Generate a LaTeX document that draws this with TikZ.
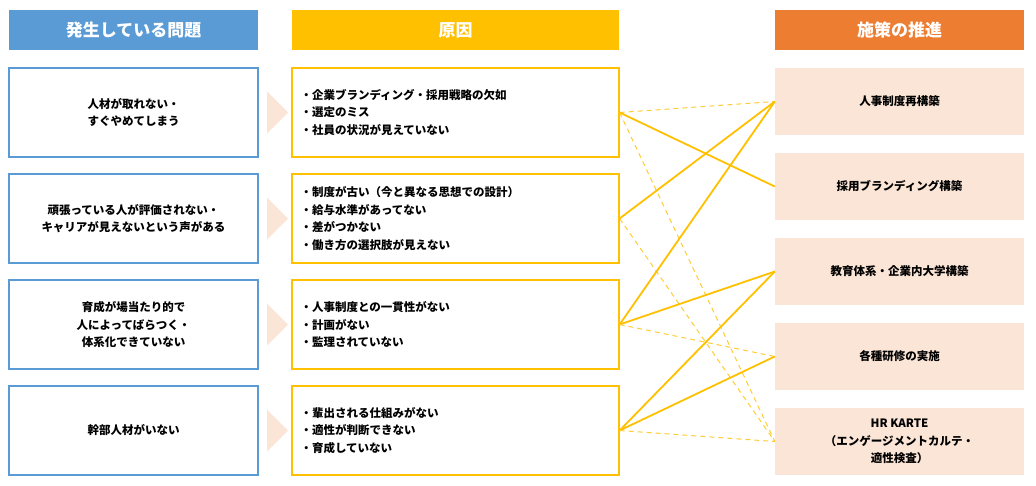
\documentclass[tikz,border=0pt]{standalone}
\usepackage{fontspec}
\setmainfont{Noto Sans CJK JP}
\begin{document}
\begin{tikzpicture}[x=1pt,y=-1pt,
 hdr/.style={minimum height=40pt,text=white,font=\fontsize{17}{19}\selectfont\bfseries,inner sep=0},
 prob/.style={draw=bcol,line width=1.2pt,minimum width=249pt,minimum height=89pt,align=center,font=\fontsize{11.5}{17.5}\selectfont\bfseries,inner sep=0},
 cause/.style={draw=ycol,line width=1.2pt,minimum width=327pt,minimum height=89pt,align=left,font=\fontsize{11.5}{17.5}\selectfont\bfseries,inner sep=0,text width=310pt},
 meas/.style={fill=pcol,minimum width=249pt,minimum height=67pt,align=center,font=\fontsize{11.5}{17.5}\selectfont\bfseries,inner sep=0},
 sl/.style={draw=ycol,line width=1.8pt},
 dl/.style={draw=ycol!80,line width=1pt,dash pattern=on 5pt off 4pt}]
\definecolor{ycol}{HTML}{FFC000}
\definecolor{pcol}{HTML}{FBE5D6}
\definecolor{bcol}{HTML}{5B9BD5}
\definecolor{ocol}{HTML}{ED7D31}
\useasboundingbox (0,0) rectangle (1036,485);
\node[hdr,fill=bcol,minimum width=249pt] (h1) at (133.5,30) {発生している問題};
\node[hdr,fill=ycol,minimum width=327pt] (h2) at (455.5,30) {原因};
\node[hdr,fill=ocol,minimum width=249pt] (h3) at (899.5,30) {施策の推進};
\foreach \i/\y/\t in {1/112.5/{人材が取れない・\\すぐやめてしまう},2/218.5/{頑張っている人が評価されない・\\キャリアが見えないという声がある},3/324.5/{育成が場当たり的で\\人によってばらつく・\\体系化できていない},4/430.5/{幹部人材がいない}}{
 \node[prob] (p\i) at (133.5,\y) {\t};
 \fill[pcol] (267,\y-21) -- (288,\y) -- (267,\y+21) -- cycle;
}
\node[cause] (c1) at (455.5,112.5) {・企業ブランディング・採用戦略の欠如\\・選定のミス\\・社員の状況が見えていない};
\node[cause] (c2) at (455.5,218.5) {・制度が古い（今と異なる思想での設計）\\・給与水準があってない\\・差がつかない\\・働き方の選択肢が見えない};
\node[cause] (c3) at (455.5,324.5) {・人事制度との一貫性がない\\・計画がない\\・監理されていない};
\node[cause] (c4) at (455.5,430.5) {・輩出される仕組みがない\\・適性が判断できない\\・育成していない};
\node[meas] (m1) at (899.5,101.5) {人事制度再構築};
\node[meas] (m2) at (899.5,186.5) {採用ブランディング構築};
\node[meas] (m3) at (899.5,271.5) {教育体系・企業内大学構築};
\node[meas] (m4) at (899.5,356.5) {各種研修の実施};
\node[meas] (m5) at (899.5,441.5) {HR KARTE\\（エンゲージメントカルテ・\\適性検査）};
\draw[dl] (c1.east) -- (m1.west);
\draw[sl] (c1.east) -- (m2.west);
\draw[dl] (c1.east) -- (m5.west);
\draw[sl] (c2.east) -- (m1.west);
\draw[dl] (c2.east) -- (m5.west);
\draw[sl] (c3.east) -- (m1.west);
\draw[sl] (c3.east) -- (m3.west);
\draw[dl] (c3.east) -- (m4.west);
\draw[sl] (c4.east) -- (m3.west);
\draw[sl] (c4.east) -- (m4.west);
\draw[dl] (c4.east) -- (m5.west);
\end{tikzpicture}
\end{document}
